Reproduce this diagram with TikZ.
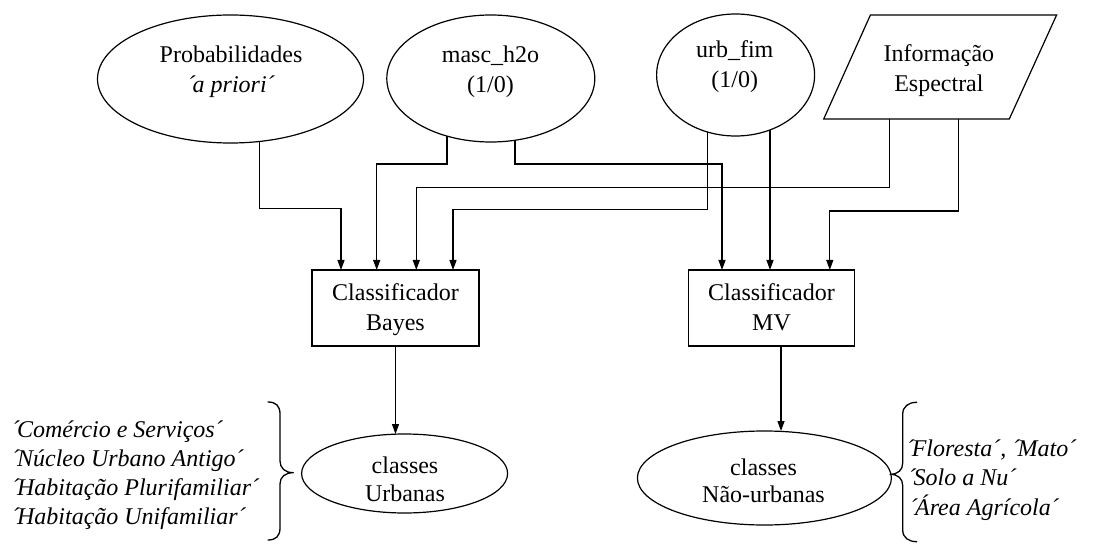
\documentclass[tikz,border=0pt]{standalone}
\usepackage{fontspec}
\setmainfont{Liberation Serif}
\usetikzlibrary{shapes.geometric,arrows.meta,calc}
% opening acute mark set tight against the following word
\newcommand{\leadacute}{´\kern-2.5pt}
\begin{document}
\begin{tikzpicture}[x=1pt,y=-1pt,
  line width=1.2pt,
  font=\fontsize{24}{29}\selectfont,
  oval/.style={draw, ellipse, inner sep=0pt, outer sep=0pt},
  panel/.style={draw, rectangle, inner sep=0pt, outer sep=0pt, minimum width=167pt, minimum height=76pt},
  txt/.style={inner sep=0pt, anchor=base},
  note/.style={inner sep=0pt, anchor=base west, font=\fontsize{24}{29}\selectfont\itshape},
  arr/.style={-{Triangle[length=10pt,width=7pt]}, line width=1.2pt},
  brace/.style={line width=1.3pt, line cap=round, line join=round}
]
\useasboundingbox (0,0) rectangle (1094,545);

% --- input layers ---
\node[oval, minimum width=266pt, minimum height=128pt] (prob) at (230.5,79) {};
\node[txt] (prob-t1) at (231,63) {Probabilidades};
\node[txt] (prob-t2) at (231,93) {\itshape \leadacute a priori´};

\node[oval, minimum width=208pt, minimum height=127pt] (masc) at (490.8,78.5) {};
\node[txt] (masc-t1) at (490.5,63) {masc\_h2o};
\node[txt] (masc-t2) at (490.5,93) {(1/0)};

\node[oval, minimum width=158pt, minimum height=122pt] (urb) at (735.6,75) {};
\node[txt] (urb-t1) at (734.7,57.5) {urb\_fim};
\node[txt] (urb-t2) at (734.7,87.5) {(1/0)};

% spectral data (parallelogram)
\draw (870.4,15) -- (1056.6,15) -- (1009.3,119) -- (823.7,119) -- cycle;
\coordinate (info-a) at (889.8,119);
\coordinate (info-b) at (958.7,119);
\node[txt] (info-t1) at (938.9,62) {Informação};
\node[txt] (info-t2) at (938.9,92) {Espectral};

% --- classifiers ---
\node[panel] (bayes) at (395.5,308) {};
\node[txt] (bayes-t1) at (395.5,300.5) {Classificador};
\node[txt] (bayes-t2) at (395.5,330.5) {Bayes};

\node[panel, minimum width=166pt] (mv) at (771.5,308) {};
\node[txt] (mv-t1) at (771.5,300.5) {Classificador};
\node[txt] (mv-t2) at (771.5,330.5) {MV};

% --- output classes ---
\node[oval, minimum width=206pt, minimum height=79pt] (urbanas) at (404.6,473.5) {};
\node[txt] (urbanas-t1) at (405,473.3) {classes};
\node[txt] (urbanas-t2) at (405,501.7) {Urbanas};

\node[oval, minimum width=254pt, minimum height=94pt] (naourb) at (764.4,478) {};
\node[txt] (naourb-t1) at (763.5,475) {classes};
\node[txt] (naourb-t2) at (763.5,502.7) {Não-urbanas};

% --- connectors into Bayes ---
\draw[arr] ($(prob.center)+(29.1,62.4)$) |- (341,208.3) -- (bayes.north -| 341,0);
\draw[arr] ($(masc.center)+(-43.9,57.6)$) |- (376.7,164) -- (bayes.north -| 376.7,0);
\draw[arr] (info-a) |- (416.3,187.3) -- (bayes.north -| 416.3,0);
\draw[arr] ($(urb.center)+(-28.5,56.9)$) |- (453,209.3) -- (bayes.north -| 453,0);

% --- connectors into MV ---
\draw[arr] ($(masc.center)+(24.1,61.8)$) |- (722,164) -- (mv.north -| 722,0);
\draw[arr] ($(urb.center)+(34.4,54.9)$) -- (mv.north -| 770,0);
\draw[arr] (info-b) |- (829.8,211) -- (mv.north -| 829.8,0);

% --- classifier outputs ---
\draw[arr] (bayes.south) -- (bayes.south |- urbanas.north);
\draw[arr] (mv.south -| 781,0) -- (naourb.north -| 781,0);

% --- braces ---
\draw[brace] (268,402) .. controls (276,402) and (280,406) .. (280,414) -- (280,461)
  .. controls (280,468) and (285,472.7) .. (293.3,472.7)
  .. controls (285,472.7) and (280,477) .. (280,484) -- (280,528)
  .. controls (280,536) and (276,540) .. (268,540);
\draw[brace] (916.7,402.3) .. controls (908.7,402.3) and (902.7,406.3) .. (902.7,414.3) -- (902.7,463)
  .. controls (902.7,470) and (898,474.3) .. (890,474.3)
  .. controls (898,474.3) and (902.7,478.6) .. (902.7,485.6) -- (902.7,530)
  .. controls (902.7,537.7) and (908.7,541.7) .. (916.7,541.7);

% --- class lists ---
\node[note] (n1) at (11,437) {\leadacute Comércio e Serviços´};
\node[note] (n2) at (11,466) {\leadacute Núcleo Urbano Antigo´};
\node[note] (n3) at (11,495) {\leadacute Habitação Plurifamiliar´};
\node[note] (n4) at (11,524) {\leadacute Habitação Unifamiliar´};
\node[note] (n5) at (905.7,456) {\leadacute Floresta´, \leadacute Mato´};
\node[note] (n6) at (907.5,485) {\leadacute Solo a Nu´};
\node[note] (n7) at (909,515) {\leadacute Área Agrícola´};
\end{tikzpicture}
\end{document}
